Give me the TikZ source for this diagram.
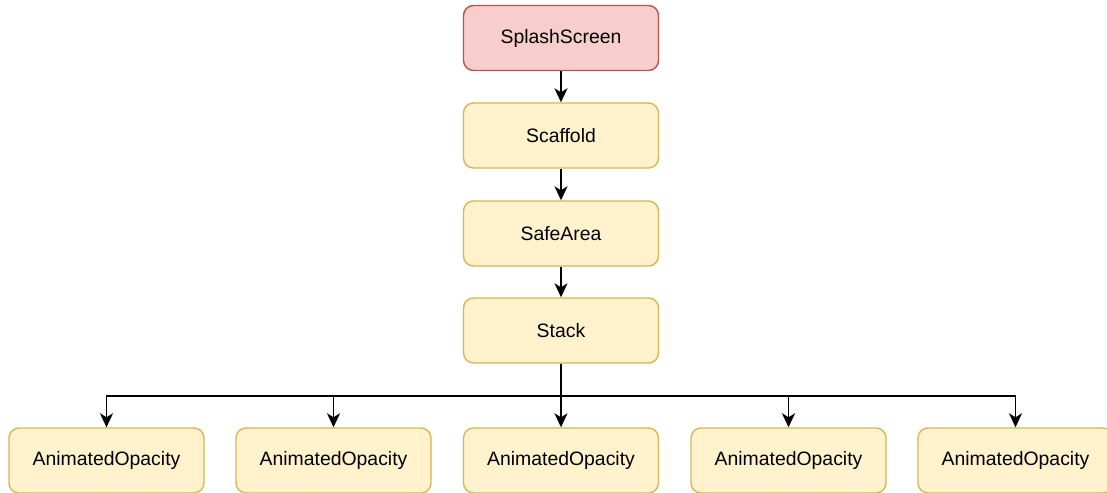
\documentclass[tikz,border=0pt]{standalone}
\usepackage{fontspec}
\setmainfont{Liberation Sans}
\usetikzlibrary{arrows.meta, positioning}

\definecolor{redfill}{HTML}{F8CECC}
\definecolor{redline}{HTML}{B85450}
\definecolor{yelfill}{HTML}{FFF2CC}
\definecolor{yelline}{HTML}{D6B656}

\begin{document}
\begin{tikzpicture}[x=1pt, y=-1pt,
	    box/.style = {draw=yelline, fill=yelfill, line width=1.4pt, rounded corners=10pt,
	        minimum width=195pt, minimum height=65pt, inner sep=0pt,
	        font=\fontsize{19.4}{23}\selectfont},
	    rootbox/.style = {box, draw=redline, fill=redfill},
	    link/.style = {line width=1.6pt, -{Stealth[length=14pt, width=13pt, inset=4pt]}}]
	    \useasboundingbox (0,0) rectangle (1107,492);
	    \clip (0,0) rectangle (1107,492);
	    \fill[white] (0,0) rectangle (1107,492);
	    % main column
	    \node[rootbox] (splash) at (561,38) {SplashScreen};
	    \node[box] (scaffold) at (561,135.5) {Scaffold};
	    \node[box] (safe) at (561,233.5) {SafeArea};
	    \node[box] (stack) at (561,330.5) {Stack};
	    \draw[link] (splash) -- (scaffold);
	    \draw[link] (scaffold) -- (safe);
	    \draw[link] (safe) -- (stack);
	    % bottom row
	    \coordinate (bus) at (561,396);
	    \foreach \i/\x in {1/106.5, 2/333.5, 3/561, 4/788.5, 5/1015.5} {
	        \node[box] (anim\i) at (\x,460.5) {AnimatedOpacity};
	        \draw[link] (stack.south) -- (bus) -| (anim\i.north);
	    }
	\end{tikzpicture}
\end{document}
